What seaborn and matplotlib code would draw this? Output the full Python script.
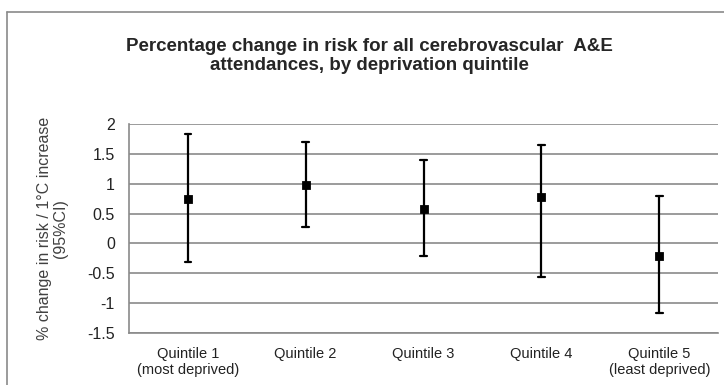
import numpy as np
import pandas as pd
import seaborn as sns
import matplotlib.pyplot as plt
from matplotlib.lines import Line2D

quintiles = [
    "Quintile 1\n(most deprived)",
    "Quintile 2",
    "Quintile 3",
    "Quintile 4",
    "Quintile 5\n(least deprived)",
]
estimate = [0.75, 0.97, 0.58, 0.77, -0.21]
lower_ci = [-0.31, 0.27, -0.21, -0.57, -1.17]
upper_ci = [1.83, 1.70, 1.39, 1.64, 0.80]
y_ticks = [-1.5, -1, -0.5, 0, 0.5, 1, 1.5, 2]

# long form: median of (lower, estimate, upper) is the estimate, 100% PI spans the CI
df = pd.DataFrame({
    "quintile": quintiles * 3,
    "value": lower_ci + estimate + upper_ci,
})

sns.set_theme(style="white")
plt.rcParams["font.family"] = ["Liberation Sans", "DejaVu Sans"]

fig = plt.figure(figsize=(7.24, 3.85), dpi=100)
ax = fig.add_axes([0.178, 0.135, 0.814, 0.543])

sns.pointplot(
    data=df, x="quintile", y="value", order=quintiles,
    estimator=np.median, errorbar=("pi", 100),
    color="black", marker="s", markersize=5, linestyle="none",
    capsize=0.055, err_kws={"linewidth": 1.6}, ax=ax,
)

ax.set_ylim(-1.5, 2)
ax.set_yticks(y_ticks)
ax.set_yticklabels([f"{t:g}" for t in y_ticks], fontsize=11.5, color="#222222")
ax.tick_params(axis="x", labelsize=10.5, length=0, pad=10, labelcolor="#222222")
ax.tick_params(axis="y", length=0, pad=10)
for lbl in ax.get_xticklabels():
    lbl.set_linespacing(1.15)
ax.set_xlabel("")
ax.set_ylabel("% change in risk / 1°C increase\n(95%CI)", fontsize=11.5,
              color="#404040", labelpad=14, linespacing=1.1)
ax.yaxis.grid(True, color="#8a8a8a", linewidth=1.2)
ax.set_axisbelow(True)
for side in ["top", "right"]:
    ax.spines[side].set_visible(False)
ax.spines["left"].set_color("#8a8a8a")
ax.spines["bottom"].set_color("#8a8a8a")
ax.spines["left"].set_linewidth(1.2)
ax.spines["bottom"].set_linewidth(1.2)

fig.text(0.51, 0.855,
         "Percentage change in risk for all cerebrovascular  A&E\nattendances, by deprivation quintile",
         ha="center", va="center", fontsize=13.5, fontweight="bold", linespacing=1.2)

# outer chart frame (only the top and left edges are inside the picture)
fig.add_artist(Line2D([0.0097, 0.0097], [0.0, 0.969], color="#8a8a8a", linewidth=1.2,
                      transform=fig.transFigure))
fig.add_artist(Line2D([0.0097, 1.0], [0.969, 0.969], color="#8a8a8a", linewidth=1.2,
                      transform=fig.transFigure))

plt.savefig("out.png", dpi=100)
